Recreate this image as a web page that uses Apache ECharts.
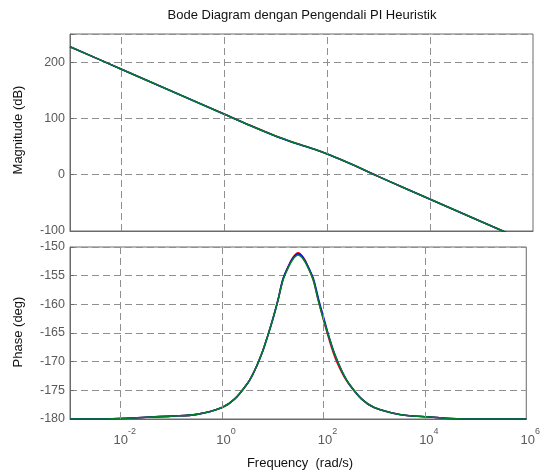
<!DOCTYPE html>
<html>
<head>
<meta charset="utf-8">
<script src="https://cdn.jsdelivr.net/npm/echarts@6/dist/echarts.min.js"></script>
<style>
html,body{margin:0;padding:0;background:#fff;}
#chart{width:543px;height:476px;}
</style>
</head>
<body>
<div id="chart"></div>
<script>
// frequency given as log10(rad/s)
var magFreqExp = [-3, -2, -1, 0, 0.5, 1, 1.25, 1.5, 1.75, 2, 2.25, 2.5, 3, 4, 5, 6];
var magGreen   = [227.5, 187.5, 147.5, 107.5, 87.6, 68.6, 60.2, 52.6, 45.2, 37.0, 27.6, 17.6, -3.4, -43.5, -83.5, -123.5];
var magRed     = [227.5, 187.5, 147.6, 107.7, 87.8, 68.8, 60.4, 52.8, 45.3, 37.0, 27.6, 17.5, -3.4, -43.5, -83.5, -123.5];
var magBlue    = [227.5, 187.5, 147.4, 107.4, 87.5, 68.5, 60.1, 52.5, 45.1, 36.9, 27.5, 17.6, -3.4, -43.5, -83.5, -123.5];

var phFreqExp = [-3, -2.5, -2, -1.5, -1, -0.5, 0, 0.25, 0.5, 0.6, 0.7, 0.8, 0.9, 1.0, 1.1, 1.2, 1.3, 1.4, 1.5, 1.6, 1.7, 1.8, 1.9, 2.0, 2.1, 2.2, 2.3, 2.4, 2.5, 2.75, 3, 3.5, 4, 4.5, 5, 5.5, 6];
var phGreen = [-180, -180, -179.9, -179.7, -179.5, -179.2, -178.0, -176.5, -173.8, -172.3, -170.4, -168.2, -165.5, -162.6, -159.4, -155.8, -153.7, -152.1, -151.4, -152.1, -153.7, -155.8, -159.4, -162.6, -165.5, -168.2, -170.4, -172.3, -173.8, -176.5, -178.0, -179.2, -179.6, -179.9, -180, -180, -180];
var phRed   = [-180, -180, -179.9, -179.7, -179.5, -179.2, -178.0, -176.5, -173.8, -172.3, -170.4, -168.2, -165.5, -162.6, -159.4, -155.7, -153.5, -151.8, -151.0, -151.8, -153.5, -155.8, -159.4, -162.7, -165.8, -168.6, -170.8, -172.5, -173.9, -176.5, -178.0, -179.2, -179.6, -179.9, -180, -180, -180];
var phBlue  = [-180, -180, -179.9, -179.7, -179.5, -179.2, -178.0, -176.5, -173.8, -172.3, -170.4, -168.2, -165.5, -162.6, -159.3, -155.6, -153.5, -151.9, -151.2, -151.9, -153.5, -155.5, -159.0, -162.2, -165.4, -168.2, -170.4, -172.3, -173.8, -176.5, -178.0, -179.2, -179.6, -179.9, -180, -180, -180];

var xMinExp = -3, xMaxExp = 6;
var xGridExp = [-2, 0, 2, 4];
var xLabelExp = [-2, 0, 2, 4, 6];
var magTicks = [-100, 0, 100, 200];
var phaseTicks = [-180, -175, -170, -165, -160, -155, -150];

var titleText = 'Bode Diagram dengan Pengendali PI Heuristik';
var magLabel = 'Magnitude (dB)';
var phaseLabel = 'Phase (deg)';
var freqLabel = 'Frequency  (rad/s)';

function pairs(xs, ys){ return xs.map(function(x,i){ return [x, ys[i]]; }); }

var FONT = 'Liberation Sans, Arial, sans-serif';
var borderColor = '#6a6a6a';
var gridColor = '#8f8f8f';
var tickColor = '#5a5a5a';
var dash = [7, 4];

var chart = echarts.init(document.getElementById('chart'), null, {renderer:'canvas'});

var vGrid = {
  silent: true, symbol: ['none','none'], label: {show:false},
  lineStyle: {color: gridColor, type: dash, width: 1},
  emphasis: {disabled: true},
  data: xGridExp.map(function(v){ return {xAxis: v}; })
};

function lineSeries(xi, yi, data, color, z, withGrid){
  var s = {
    type: 'line', xAxisIndex: xi, yAxisIndex: yi, data: data,
    showSymbol: false, symbol: 'none', smooth: 0.35, clip: true,
    lineStyle: {color: color, width: 1.6}, z: z, animation: false
  };
  if (withGrid) s.markLine = vGrid;
  return s;
}

var axisLineStyle = {show: true, onZero: false, lineStyle: {color: borderColor}};

var option = {
  backgroundColor: '#fff',
  animation: false,
  textStyle: {fontFamily: FONT},
  grid: [
    {left: 70, top: 34, width: 463, height: 197, show: true, borderColor: borderColor, borderWidth: 1, backgroundColor: '#fff'},
    {left: 70, top: 247, width: 463, height: 172, show: true, borderColor: borderColor, borderWidth: 1, backgroundColor: '#fff'}
  ],
  xAxis: [
    {gridIndex: 0, type: 'value', min: xMinExp, max: xMaxExp, interval: 1,
     axisLine: axisLineStyle, axisTick: {show: false},
     axisLabel: {show: false}, splitLine: {show: false}},
    {gridIndex: 1, type: 'value', min: xMinExp, max: xMaxExp, interval: 1,
     axisLine: axisLineStyle, axisTick: {show: false},
     splitLine: {show: false},
     axisLabel: {
       show: true, margin: 8, showMinLabel: true, showMaxLabel: true,
       formatter: function(v){
         var r = Math.round(v);
         if (xLabelExp.indexOf(r) < 0) return '';
         return '{b|10}{s|' + r + '}';
       },
       rich: {
         b: {fontSize: 13, color: tickColor, fontFamily: FONT, lineHeight: 20, verticalAlign: 'bottom', padding: [0,0,0,8]},
         s: {fontSize: 9, color: tickColor, fontFamily: FONT, lineHeight: 20, verticalAlign: 'top'}
       }
     }}
  ],
  yAxis: [
    {gridIndex: 0, type: 'value', min: -100, max: 250, interval: 100,
     axisLine: axisLineStyle,
     axisTick: {show: true, inside: true, length: 4, lineStyle: {color: borderColor}},
     axisLabel: {color: tickColor, fontSize: 12.5, fontFamily: FONT, margin: 5,
       formatter: function(v){ return magTicks.indexOf(Math.round(v)) >= 0 ? String(v) : ''; }},
     splitLine: {show: true, lineStyle: {color: gridColor, type: dash, width: 1}}},
    {gridIndex: 1, type: 'value', min: -180, max: -150, interval: 5,
     axisLine: axisLineStyle,
     axisTick: {show: true, inside: true, length: 4, lineStyle: {color: borderColor}},
     axisLabel: {color: tickColor, fontSize: 12.5, fontFamily: FONT, margin: 5,
       formatter: function(v){ return phaseTicks.indexOf(Math.round(v)) >= 0 ? String(v) : ''; }},
     splitLine: {show: true, lineStyle: {color: gridColor, type: dash, width: 1}}}
  ],
  series: [
    lineSeries(0, 0, pairs(magFreqExp, magRed), '#ff0000', 2, true),
    lineSeries(0, 0, pairs(magFreqExp, magBlue), '#0000ff', 3, false),
    lineSeries(0, 0, pairs(magFreqExp, magGreen), '#007f2a', 4, false),
    lineSeries(1, 1, pairs(phFreqExp, phRed), '#ff0000', 2, true),
    lineSeries(1, 1, pairs(phFreqExp, phBlue), '#0000ff', 3, false),
    lineSeries(1, 1, pairs(phFreqExp, phGreen), '#007f2a', 4, false)
  ],
  graphic: [
    {type: 'text', x: 302, y: 15, style: {text: titleText, fontSize: 13, fontFamily: FONT, fill: '#111', align: 'center', verticalAlign: 'middle'}, z: 10},
    {type: 'text', x: 18, y: 130, rotation: Math.PI/2, style: {text: magLabel, fontSize: 13, fontFamily: FONT, fill: '#111', align: 'center', verticalAlign: 'middle'}},
    {type: 'text', x: 18, y: 332, rotation: Math.PI/2, style: {text: phaseLabel, fontSize: 13, fontFamily: FONT, fill: '#111', align: 'center', verticalAlign: 'middle'}},
    {type: 'text', x: 300, y: 463, style: {text: freqLabel, fontSize: 13, fontFamily: FONT, fill: '#111', align: 'center', verticalAlign: 'middle'}}
  ]
};
chart.setOption(option);
</script>
</body>
</html>
